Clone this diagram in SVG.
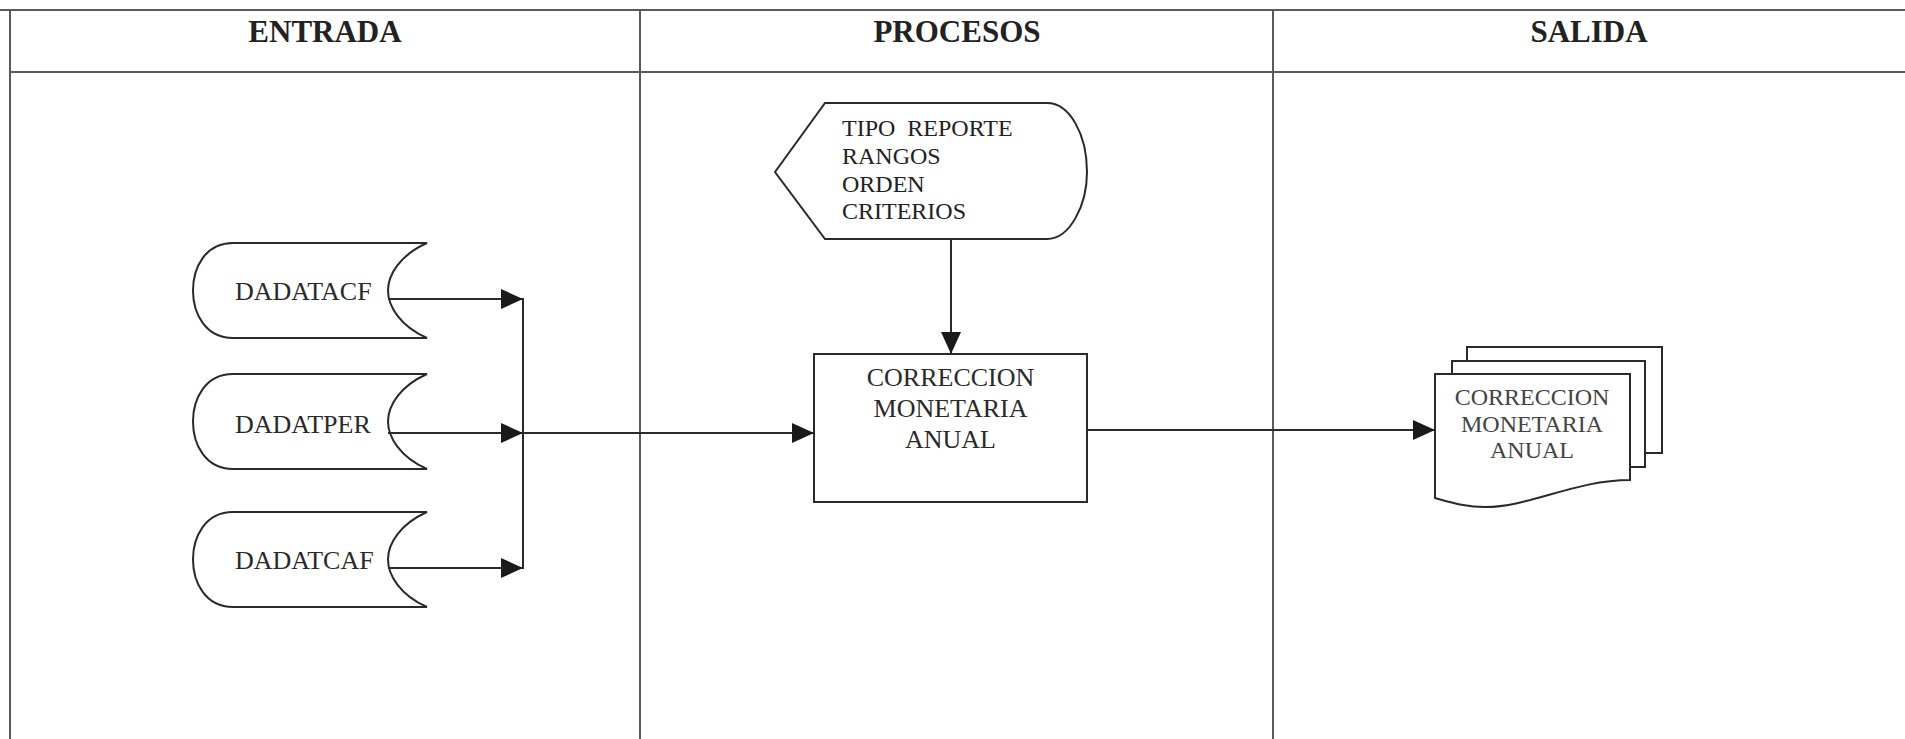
<svg xmlns="http://www.w3.org/2000/svg" width="1905" height="739" viewBox="0 0 1905 739">
<style>
.grid{stroke:#5a5a5a;stroke-width:2;fill:none}
.shape{stroke:#2a2a2a;stroke-width:2;fill:#fff}
.conn{stroke:#2a2a2a;stroke-width:2;fill:none}
.hdr{font-family:"Liberation Serif",serif;font-weight:bold;font-size:31px;fill:#222;text-anchor:middle}
.lbl{font-family:"Liberation Serif",serif;font-size:26px;fill:#2a2a2a}
.opt{font-family:"Liberation Serif",serif;font-size:24px;fill:#222;white-space:pre}
.doc{font-family:"Liberation Serif",serif;font-size:24px;fill:#444;text-anchor:middle}
</style>
<defs>
<marker id="arr" markerUnits="userSpaceOnUse" markerWidth="22" markerHeight="22" viewBox="0 0 22 22" refX="22" refY="11" orient="auto">
<path d="M0 1 L22 11 L0 21 Z" fill="#1a1a1a"/>
</marker>
<path id="cyl" d="M234 0 L40 0 C12 0 0 25 0 47.5 C0 70 12 95 40 95 L234 95 C207 83 195 63 195 47.5 C195 32 207 12 234 0 Z"/>
</defs>
<rect width="1905" height="739" fill="#fff"/>
<g id="table">
<line class="grid" x1="0" y1="10" x2="1905" y2="10"/>
<line class="grid" x1="10" y1="72" x2="1905" y2="72"/>
<line class="grid" x1="10" y1="10" x2="10" y2="739"/>
<line class="grid" x1="640" y1="10" x2="640" y2="739"/>
<line class="grid" x1="1273" y1="10" x2="1273" y2="739"/>
<text class="hdr" x="325" y="42">ENTRADA</text>
<text class="hdr" x="957" y="42">PROCESOS</text>
<text class="hdr" x="1589" y="42">SALIDA</text>
</g>
<g id="dadatacf">
<use href="#cyl" x="193" y="243" class="shape"/>
<text class="lbl" x="235" y="300">DADATACF</text>
</g>
<g id="dadatper">
<use href="#cyl" x="193" y="374" class="shape"/>
<text class="lbl" x="235" y="433">DADATPER</text>
</g>
<g id="dadatcaf">
<use href="#cyl" x="193" y="512" class="shape"/>
<text class="lbl" x="235" y="569">DADATCAF</text>
</g>
<g id="parametros">
<path class="shape" d="M775 172 L825 103 L1047 103 C1070 103 1087 135 1087 172 C1087 205 1070 239 1047 239 L825 239 Z"/>
<text class="opt" x="842" y="136">TIPO  REPORTE</text>
<text class="opt" x="842" y="164">RANGOS</text>
<text class="opt" x="842" y="192">ORDEN</text>
<text class="opt" x="842" y="219">CRITERIOS</text>
</g>
<g id="proceso">
<rect class="shape" x="814" y="354" width="273" height="148"/>
<text class="lbl" x="950.5" y="386" text-anchor="middle">CORRECCION</text>
<text class="lbl" x="950.5" y="417" text-anchor="middle">MONETARIA</text>
<text class="lbl" x="950.5" y="448" text-anchor="middle">ANUAL</text>
</g>
<g id="reporte">
<rect class="shape" x="1467" y="347" width="195" height="106"/>
<rect class="shape" x="1452" y="361" width="193" height="106"/>
<path class="shape" d="M1435 374 L1630 374 L1630 480 C1575 480 1530 507 1485 507 C1465 507 1450 502 1435 498 Z"/>
<text class="doc" x="1532" y="405">CORRECCION</text>
<text class="doc" x="1532" y="432">MONETARIA</text>
<text class="doc" x="1532" y="458">ANUAL</text>
</g>
<g id="connectors">
<line class="conn" x1="388" y1="299" x2="523" y2="299" marker-end="url(#arr)"/>
<line class="conn" x1="388" y1="433" x2="523" y2="433" marker-end="url(#arr)"/>
<line class="conn" x1="388" y1="568" x2="523" y2="568" marker-end="url(#arr)"/>
<line class="conn" x1="523" y1="298" x2="523" y2="569"/>
<line class="conn" x1="523" y1="433" x2="814" y2="433" marker-end="url(#arr)"/>
<line class="conn" x1="951" y1="239" x2="951" y2="354" marker-end="url(#arr)"/>
<line class="conn" x1="1087" y1="430" x2="1435" y2="430" marker-end="url(#arr)"/>
</g>
</svg>
